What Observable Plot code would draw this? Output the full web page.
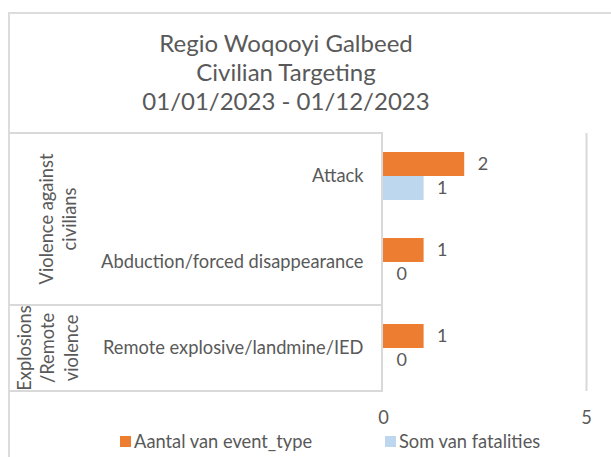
<!DOCTYPE html>
<html>
<head>
<meta charset="utf-8">
<script src="https://cdn.jsdelivr.net/npm/d3@7"></script>
<script src="https://cdn.jsdelivr.net/npm/@observablehq/plot@0.6"></script>
<style>
  html, body { margin: 0; padding: 0; background: #fff; width: 611px; height: 457px; overflow: hidden; }
  body { position: relative; font-family: Lato, "Open Sans", sans-serif; color: #595959; }
  #frame { position: absolute; left: 8px; top: 12px; width: 700px; height: 500px;
           border-left: 2px solid #dcdcdc; border-top: 2px solid #dcdcdc; box-sizing: border-box; }
  #title { position: absolute; left: 0; top: 28px; width: 572px; text-align: center;
           font-size: 24px; line-height: 29px; color: #595959; }
  #chart { position: absolute; left: 0; top: 120px; }
  #legend { position: absolute; left: 0; top: 430px; width: 611px; height: 22px; font-size: 18.3px; }
  .sw { position: absolute; top: 6px; width: 11px; height: 11px; }
  .lt { position: absolute; top: 0; line-height: 22px; white-space: nowrap; }
</style>
</head>
<body>
<div id="frame"></div>
<div id="title"></div>
<div id="chart"></div>
<div id="legend"></div>
<script>
const titleLines = ["Regio Woqooyi Galbeed", "Civilian Targeting", "01/01/2023 - 01/12/2023"];
const categories = ["Attack", "Abduction/forced disappearance", "Remote explosive/landmine/IED"];
const groups = [
  { lines: ["Violence against", "civilians"], members: ["Attack", "Abduction/forced disappearance"], cx: 58 },
  { lines: ["Explosions", "/Remote", "violence"], members: ["Remote explosive/landmine/IED"], cx: 48 }
];
const series = ["Aantal van event_type", "Som van fatalities"];
const colors = ["#ED7D31", "#BDD7EE"];
const eventCounts = [2, 1, 1];
const fatalities = [1, 0, 0];
const xTicks = [0, 5];

const data = [];
categories.forEach((c, i) => {
  data.push({ category: c, series: series[0], value: eventCounts[i] });
  data.push({ category: c, series: series[1], value: fatalities[i] });
});

document.getElementById("title").innerHTML = titleLines.map(t => `<div>${t}</div>`).join("");

const textColor = "#595959";
const lineColor = "#d9d9d9";

const plot = Plot.plot({
  width: 611,
  height: 310,
  marginLeft: 383,
  marginRight: 25,
  marginTop: 13,
  marginBottom: 39,
  style: { fontFamily: "Lato, 'Open Sans', sans-serif", fontSize: "18.3px", color: textColor, background: "transparent", overflow: "visible" },
  x: { domain: [0, 5], ticks: xTicks, tickSize: 0, tickPadding: 19, label: null, tickFormat: d => String(d) },
  y: { domain: series, paddingInner: 0, paddingOuter: 0.79, axis: null },
  fy: { domain: categories, padding: 0, label: null, axis: "left", tickSize: 0, tickPadding: 20 },
  color: { domain: series, range: colors },
  marks: [
    Plot.ruleX([5], { stroke: lineColor, strokeWidth: 2 }),
    Plot.barX(data, { x: "value", y: "series", fy: "category", fill: "series" }),
    Plot.text(data, { x: "value", y: "series", fy: "category", text: d => String(d.value),
                      textAnchor: "start", dx: 13, fill: textColor, fontSize: 18 })
  ]
});
document.getElementById("chart").appendChild(plot);

// table box and group labels using the plot's own scales
const fyScale = plot.scale("fy");
const xScale = plot.scale("x");
const bw = fyScale.bandwidth;
const svg = d3.select(plot);
const x0 = xScale.apply(0) - 1;
const boxTop = fyScale.apply(categories[0]);
const boxBottom = fyScale.apply(categories[categories.length - 1]) + bw;
const boxLeft = 9;
const gLines = svg.append("g").attr("stroke", lineColor).attr("stroke-width", 2);
const hLines = [boxTop, boxBottom];
groups.slice(1).forEach(gr => hLines.push(fyScale.apply(gr.members[0])));
hLines.forEach(y => gLines.append("line").attr("x1", boxLeft).attr("x2", x0 + 1).attr("y1", y).attr("y2", y));
gLines.append("line").attr("x1", x0).attr("x2", x0).attr("y1", boxTop).attr("y2", boxBottom);

groups.forEach(gr => {
  const y1 = fyScale.apply(gr.members[0]);
  const y2 = fyScale.apply(gr.members[gr.members.length - 1]) + bw;
  const cy = (y1 + y2) / 2;
  const lh = 23.5;
  const n = gr.lines.length;
  const t = svg.append("text")
    .attr("transform", `translate(${gr.cx},${cy}) rotate(-90)`)
    .attr("text-anchor", "middle")
    .attr("fill", textColor)
    .attr("font-size", 18.3)
    .attr("font-family", "Lato, 'Open Sans', sans-serif");
  gr.lines.forEach((l, i) => {
    t.append("tspan").attr("x", 0).attr("y", (i - (n - 1) / 2) * lh).attr("dy", "0.35em").text(l);
  });
});

// legend
const legend = document.getElementById("legend");
const legendPos = [120, 385];
series.forEach((s, i) => {
  const sw = document.createElement("div");
  sw.className = "sw"; sw.style.left = legendPos[i] + "px"; sw.style.background = colors[i];
  const lt = document.createElement("div");
  lt.className = "lt"; lt.style.left = (legendPos[i] + 14) + "px"; lt.textContent = s;
  legend.appendChild(sw); legend.appendChild(lt);
});
</script>
</body>
</html>
